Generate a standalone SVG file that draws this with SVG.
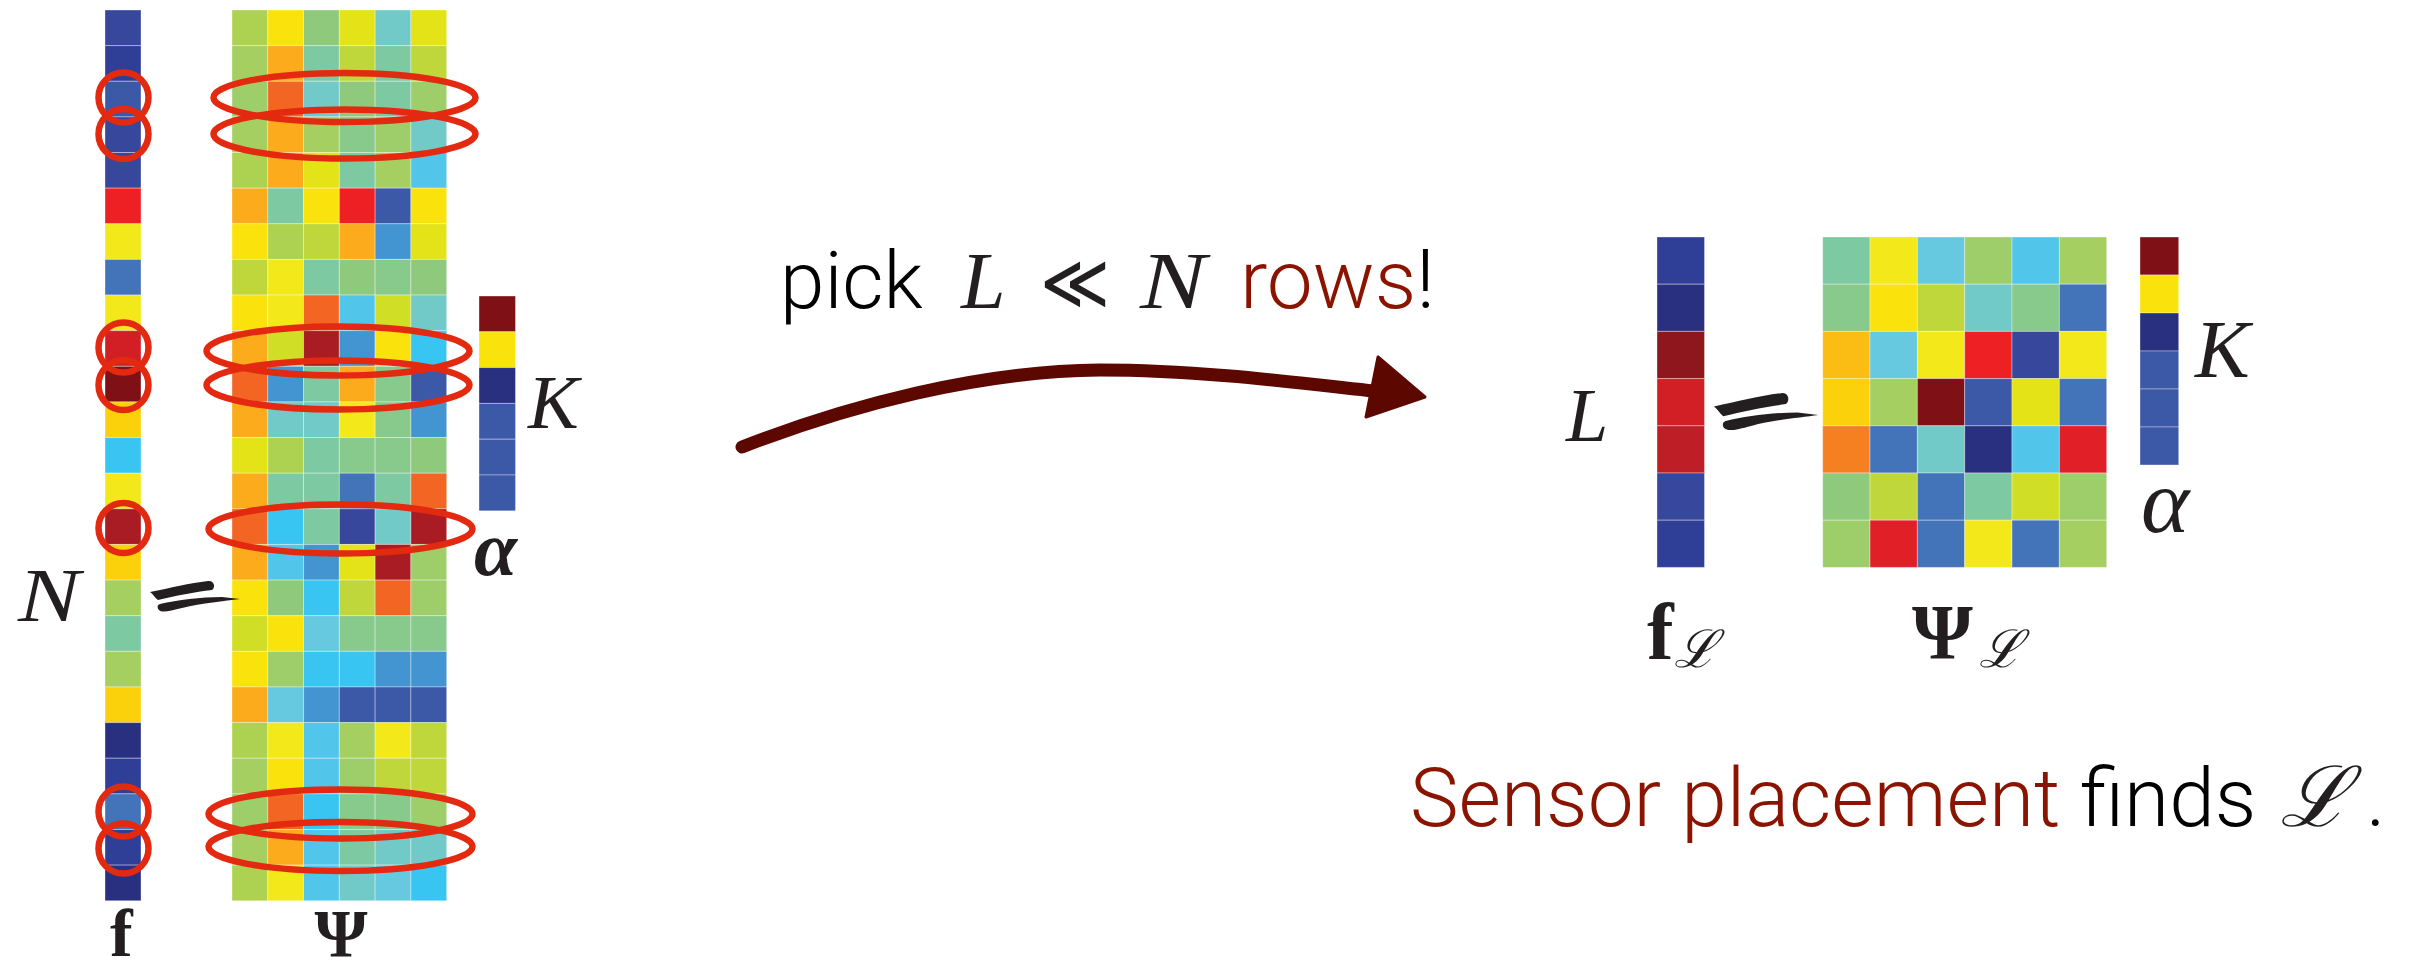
<svg xmlns="http://www.w3.org/2000/svg" width="2412" height="971" viewBox="0 0 2412 971">
<style>
rect{stroke:#ffffff;stroke-opacity:.35;stroke-width:1;vector-effect:non-scaling-stroke}
.nv{fill:#29307f}.b1{fill:#2f3e97}.b2{fill:#36479c}.b3{fill:#3c59a7}.b4{fill:#4373b8}.b5{fill:#4395d1}
.cy{fill:#38c5f2}.c2{fill:#52c6ea}.c3{fill:#66c9e0}.tq{fill:#72cac8}.tg{fill:#7cc9a2}
.g1{fill:#88c98c}.g2{fill:#8fc97c}.g3{fill:#9dce6a}.g4{fill:#a5cf60}.g5{fill:#add150}
.yg{fill:#bfd73a}.y1{fill:#d1de26}.y2{fill:#e3e318}.y3{fill:#f3e91a}.y4{fill:#fae20c}.gd{fill:#fbd10c}
.or{fill:#fbab1b}.o2{fill:#f26522}.rd{fill:#ee2024}.r2{fill:#d21f26}.r3{fill:#be1f26}.dr{fill:#aa1c24}.d2{fill:#8e171e}.mr{fill:#7f1116}
.sel{fill:none;stroke:#e3290f;stroke-width:6.5}
.mi{font-family:"Liberation Serif","DejaVu Serif",serif;font-style:italic;fill:#231f20}
.mb{font-family:"Liberation Serif","DejaVu Serif",serif;font-weight:bold;fill:#231f20}
.mbi{font-family:"Liberation Serif","DejaVu Serif",serif;font-weight:bold;font-style:italic;fill:#231f20}
.scr{font-family:"DejaVu Serif",serif;font-style:italic;fill:#231f20}
.sans{font-family:"Roboto","Liberation Sans",sans-serif;font-weight:300}
.red{fill:#8a1400}
.blk{fill:#000000}
.eq{fill:#231f20}
</style>

<!-- Left f vector -->
<g id="f-vector">
<g transform="translate(105,10) scale(36,35.63)">
<rect x="0" y="0" width="1" height="1" class="b2"/>
<rect x="0" y="1" width="1" height="1" class="b1"/>
<rect x="0" y="2" width="1" height="1" class="b3"/>
<rect x="0" y="3" width="1" height="1" class="b2"/>
<rect x="0" y="4" width="1" height="1" class="b2"/>
<rect x="0" y="5" width="1" height="1" class="rd"/>
<rect x="0" y="6" width="1" height="1" class="y3"/>
<rect x="0" y="7" width="1" height="1" class="b4"/>
<rect x="0" y="8" width="1" height="1" class="y3"/>
<rect x="0" y="9" width="1" height="1" class="r2"/>
<rect x="0" y="10" width="1" height="1" class="mr"/>
<rect x="0" y="11" width="1" height="1" class="gd"/>
<rect x="0" y="12" width="1" height="1" class="cy"/>
<rect x="0" y="13" width="1" height="1" class="y3"/>
<rect x="0" y="14" width="1" height="1" class="dr"/>
<rect x="0" y="15" width="1" height="1" class="gd"/>
<rect x="0" y="16" width="1" height="1" class="g4"/>
<rect x="0" y="17" width="1" height="1" class="tg"/>
<rect x="0" y="18" width="1" height="1" class="g4"/>
<rect x="0" y="19" width="1" height="1" class="gd"/>
<rect x="0" y="20" width="1" height="1" class="nv"/>
<rect x="0" y="21" width="1" height="1" class="b1"/>
<rect x="0" y="22" width="1" height="1" class="b4"/>
<rect x="0" y="23" width="1" height="1" class="b1"/>
<rect x="0" y="24" width="1" height="1" class="nv"/>
</g>
<circle cx="123.5" cy="97.5" r="25" class="sel"/>
<circle cx="123.5" cy="134" r="25" class="sel"/>
<circle cx="123.5" cy="347.5" r="25" class="sel"/>
<circle cx="123.5" cy="385" r="25" class="sel"/>
<circle cx="123.5" cy="528" r="25" class="sel"/>
<circle cx="123.5" cy="811.5" r="25" class="sel"/>
<circle cx="123.5" cy="848.5" r="25" class="sel"/>
<text x="110" y="956" font-size="68" class="mb">f</text>
</g>

<!-- Left Psi matrix -->
<g id="psi-matrix">
<g transform="translate(232,10) scale(35.78,35.63)">
<rect x="0" y="0" width="1" height="1" class="g5"/><rect x="1" y="0" width="1" height="1" class="y4"/><rect x="2" y="0" width="1" height="1" class="g2"/><rect x="3" y="0" width="1" height="1" class="y2"/><rect x="4" y="0" width="1" height="1" class="tq"/><rect x="5" y="0" width="1" height="1" class="y2"/>
<rect x="0" y="1" width="1" height="1" class="g4"/><rect x="1" y="1" width="1" height="1" class="or"/><rect x="2" y="1" width="1" height="1" class="tg"/><rect x="3" y="1" width="1" height="1" class="yg"/><rect x="4" y="1" width="1" height="1" class="tg"/><rect x="5" y="1" width="1" height="1" class="yg"/>
<rect x="0" y="2" width="1" height="1" class="g3"/><rect x="1" y="2" width="1" height="1" class="o2"/><rect x="2" y="2" width="1" height="1" class="tq"/><rect x="3" y="2" width="1" height="1" class="g2"/><rect x="4" y="2" width="1" height="1" class="tg"/><rect x="5" y="2" width="1" height="1" class="g3"/>
<rect x="0" y="3" width="1" height="1" class="g4"/><rect x="1" y="3" width="1" height="1" class="or"/><rect x="2" y="3" width="1" height="1" class="g4"/><rect x="3" y="3" width="1" height="1" class="g1"/><rect x="4" y="3" width="1" height="1" class="g3"/><rect x="5" y="3" width="1" height="1" class="tq"/>
<rect x="0" y="4" width="1" height="1" class="g5"/><rect x="1" y="4" width="1" height="1" class="or"/><rect x="2" y="4" width="1" height="1" class="y2"/><rect x="3" y="4" width="1" height="1" class="tg"/><rect x="4" y="4" width="1" height="1" class="g4"/><rect x="5" y="4" width="1" height="1" class="c2"/>
<rect x="0" y="5" width="1" height="1" class="or"/><rect x="1" y="5" width="1" height="1" class="tg"/><rect x="2" y="5" width="1" height="1" class="y4"/><rect x="3" y="5" width="1" height="1" class="rd"/><rect x="4" y="5" width="1" height="1" class="b3"/><rect x="5" y="5" width="1" height="1" class="y4"/>
<rect x="0" y="6" width="1" height="1" class="y4"/><rect x="1" y="6" width="1" height="1" class="g5"/><rect x="2" y="6" width="1" height="1" class="yg"/><rect x="3" y="6" width="1" height="1" class="or"/><rect x="4" y="6" width="1" height="1" class="b5"/><rect x="5" y="6" width="1" height="1" class="y2"/>
<rect x="0" y="7" width="1" height="1" class="yg"/><rect x="1" y="7" width="1" height="1" class="y3"/><rect x="2" y="7" width="1" height="1" class="tg"/><rect x="3" y="7" width="1" height="1" class="g2"/><rect x="4" y="7" width="1" height="1" class="g1"/><rect x="5" y="7" width="1" height="1" class="g2"/>
<rect x="0" y="8" width="1" height="1" class="y4"/><rect x="1" y="8" width="1" height="1" class="y3"/><rect x="2" y="8" width="1" height="1" class="o2"/><rect x="3" y="8" width="1" height="1" class="c2"/><rect x="4" y="8" width="1" height="1" class="y1"/><rect x="5" y="8" width="1" height="1" class="tq"/>
<rect x="0" y="9" width="1" height="1" class="or"/><rect x="1" y="9" width="1" height="1" class="y1"/><rect x="2" y="9" width="1" height="1" class="dr"/><rect x="3" y="9" width="1" height="1" class="b5"/><rect x="4" y="9" width="1" height="1" class="y4"/><rect x="5" y="9" width="1" height="1" class="cy"/>
<rect x="0" y="10" width="1" height="1" class="o2"/><rect x="1" y="10" width="1" height="1" class="b5"/><rect x="2" y="10" width="1" height="1" class="tg"/><rect x="3" y="10" width="1" height="1" class="or"/><rect x="4" y="10" width="1" height="1" class="g1"/><rect x="5" y="10" width="1" height="1" class="b3"/>
<rect x="0" y="11" width="1" height="1" class="or"/><rect x="1" y="11" width="1" height="1" class="tq"/><rect x="2" y="11" width="1" height="1" class="tq"/><rect x="3" y="11" width="1" height="1" class="y3"/><rect x="4" y="11" width="1" height="1" class="g1"/><rect x="5" y="11" width="1" height="1" class="b5"/>
<rect x="0" y="12" width="1" height="1" class="y2"/><rect x="1" y="12" width="1" height="1" class="g5"/><rect x="2" y="12" width="1" height="1" class="tg"/><rect x="3" y="12" width="1" height="1" class="g1"/><rect x="4" y="12" width="1" height="1" class="g1"/><rect x="5" y="12" width="1" height="1" class="g2"/>
<rect x="0" y="13" width="1" height="1" class="or"/><rect x="1" y="13" width="1" height="1" class="tg"/><rect x="2" y="13" width="1" height="1" class="tg"/><rect x="3" y="13" width="1" height="1" class="b4"/><rect x="4" y="13" width="1" height="1" class="tg"/><rect x="5" y="13" width="1" height="1" class="o2"/>
<rect x="0" y="14" width="1" height="1" class="o2"/><rect x="1" y="14" width="1" height="1" class="cy"/><rect x="2" y="14" width="1" height="1" class="tg"/><rect x="3" y="14" width="1" height="1" class="b2"/><rect x="4" y="14" width="1" height="1" class="tq"/><rect x="5" y="14" width="1" height="1" class="dr"/>
<rect x="0" y="15" width="1" height="1" class="or"/><rect x="1" y="15" width="1" height="1" class="c2"/><rect x="2" y="15" width="1" height="1" class="b5"/><rect x="3" y="15" width="1" height="1" class="y2"/><rect x="4" y="15" width="1" height="1" class="dr"/><rect x="5" y="15" width="1" height="1" class="g3"/>
<rect x="0" y="16" width="1" height="1" class="y4"/><rect x="1" y="16" width="1" height="1" class="g2"/><rect x="2" y="16" width="1" height="1" class="cy"/><rect x="3" y="16" width="1" height="1" class="yg"/><rect x="4" y="16" width="1" height="1" class="o2"/><rect x="5" y="16" width="1" height="1" class="g3"/>
<rect x="0" y="17" width="1" height="1" class="y1"/><rect x="1" y="17" width="1" height="1" class="y4"/><rect x="2" y="17" width="1" height="1" class="c3"/><rect x="3" y="17" width="1" height="1" class="g1"/><rect x="4" y="17" width="1" height="1" class="g1"/><rect x="5" y="17" width="1" height="1" class="g1"/>
<rect x="0" y="18" width="1" height="1" class="y4"/><rect x="1" y="18" width="1" height="1" class="g3"/><rect x="2" y="18" width="1" height="1" class="cy"/><rect x="3" y="18" width="1" height="1" class="cy"/><rect x="4" y="18" width="1" height="1" class="b5"/><rect x="5" y="18" width="1" height="1" class="b5"/>
<rect x="0" y="19" width="1" height="1" class="or"/><rect x="1" y="19" width="1" height="1" class="c3"/><rect x="2" y="19" width="1" height="1" class="b5"/><rect x="3" y="19" width="1" height="1" class="b3"/><rect x="4" y="19" width="1" height="1" class="b3"/><rect x="5" y="19" width="1" height="1" class="b3"/>
<rect x="0" y="20" width="1" height="1" class="g5"/><rect x="1" y="20" width="1" height="1" class="y3"/><rect x="2" y="20" width="1" height="1" class="c2"/><rect x="3" y="20" width="1" height="1" class="g4"/><rect x="4" y="20" width="1" height="1" class="y3"/><rect x="5" y="20" width="1" height="1" class="yg"/>
<rect x="0" y="21" width="1" height="1" class="g4"/><rect x="1" y="21" width="1" height="1" class="y4"/><rect x="2" y="21" width="1" height="1" class="c2"/><rect x="3" y="21" width="1" height="1" class="g3"/><rect x="4" y="21" width="1" height="1" class="yg"/><rect x="5" y="21" width="1" height="1" class="yg"/>
<rect x="0" y="22" width="1" height="1" class="g3"/><rect x="1" y="22" width="1" height="1" class="o2"/><rect x="2" y="22" width="1" height="1" class="cy"/><rect x="3" y="22" width="1" height="1" class="g1"/><rect x="4" y="22" width="1" height="1" class="g1"/><rect x="5" y="22" width="1" height="1" class="g3"/>
<rect x="0" y="23" width="1" height="1" class="g4"/><rect x="1" y="23" width="1" height="1" class="or"/><rect x="2" y="23" width="1" height="1" class="c2"/><rect x="3" y="23" width="1" height="1" class="tg"/><rect x="4" y="23" width="1" height="1" class="tq"/><rect x="5" y="23" width="1" height="1" class="tq"/>
<rect x="0" y="24" width="1" height="1" class="g5"/><rect x="1" y="24" width="1" height="1" class="y3"/><rect x="2" y="24" width="1" height="1" class="c2"/><rect x="3" y="24" width="1" height="1" class="tq"/><rect x="4" y="24" width="1" height="1" class="c3"/><rect x="5" y="24" width="1" height="1" class="cy"/>
</g>
<ellipse cx="344.5" cy="97.5" rx="131" ry="24.5" class="sel"/>
<ellipse cx="344.5" cy="134" rx="131" ry="24.5" class="sel"/>
<ellipse cx="338" cy="351" rx="131.5" ry="24.5" class="sel"/>
<ellipse cx="338" cy="385" rx="131.5" ry="24.5" class="sel"/>
<ellipse cx="340.5" cy="529" rx="132" ry="24.5" class="sel"/>
<ellipse cx="340.5" cy="814" rx="132" ry="24.5" class="sel"/>
<ellipse cx="340.5" cy="846.5" rx="132" ry="24.5" class="sel"/>
<text x="341" y="956" font-size="68" text-anchor="middle" class="mb">Ψ</text>
</g>

<!-- Left alpha vector -->
<g id="alpha-vector">
<g transform="translate(479,296) scale(36.5,35.8)">
<rect x="0" y="0" width="1" height="1" class="mr"/>
<rect x="0" y="1" width="1" height="1" class="y4"/>
<rect x="0" y="2" width="1" height="1" class="nv"/>
<rect x="0" y="3" width="1" height="1" class="b3"/>
<rect x="0" y="4" width="1" height="1" class="b3"/>
<rect x="0" y="5" width="1" height="1" class="b3"/>
</g>
<text x="528" y="428" font-size="76" class="mi">K</text>
<text x="474" y="575" font-size="78" class="mbi">α</text>
</g>

<!-- Left equation label and sign -->
<g id="left-equation">
<text x="18" y="621" font-size="76" class="mi" textLength="62" lengthAdjust="spacingAndGlyphs">N</text>
<g transform="translate(150,580)" class="eq">
<path d="M0,12 C20,8 40,3 58,1 C64,0 66,7 62,10 C45,12 25,16 8,20 C5,18 3,14 0,12 Z"/>
<path d="M10,24 C28,20 50,17 72,17 L90,19 C75,21 52,23 32,28 C20,31 12,33 9,30 C7,28 7,25 10,24 Z"/>
</g>
</g>

<!-- Connector -->
<g id="connectors">
<path d="M742,447 C850,405 980,371 1100,370 C1200,370 1300,383 1374,391" fill="none" stroke="#5c0800" stroke-width="13" stroke-linecap="round"/>
<polygon points="1378,357 1425,397 1366,417" fill="#5c0800" stroke="#5c0800" stroke-width="3" stroke-linejoin="round"/>
</g>

<!-- Arrow label -->
<g id="pick-label">
<text x="780" y="308" font-size="80" class="sans blk">pick</text>
<text x="961" y="308" font-size="80" class="mi">L</text>
<text x="1040" y="309" font-size="78" font-family="DejaVu Sans, sans-serif" fill="#231f20" textLength="70" lengthAdjust="spacingAndGlyphs">≪</text>
<text x="1140" y="308" font-size="80" class="mi" textLength="66" lengthAdjust="spacingAndGlyphs">N</text>
<text x="1240" y="308" font-size="82" class="sans red">rows<tspan class="blk">!</tspan></text>
</g>

<!-- Right f_L vector -->
<g id="fL-vector">
<g transform="translate(1657,237) scale(47.5,47.2)">
<rect x="0" y="0" width="1" height="1" class="b1"/>
<rect x="0" y="1" width="1" height="1" class="nv"/>
<rect x="0" y="2" width="1" height="1" class="d2"/>
<rect x="0" y="3" width="1" height="1" class="r2"/>
<rect x="0" y="4" width="1" height="1" class="r3"/>
<rect x="0" y="5" width="1" height="1" class="b2"/>
<rect x="0" y="6" width="1" height="1" class="b1"/>
</g>
<text x="1647" y="659" font-size="80" class="mb">f</text>
<text x="1674" y="667" font-size="52" class="scr">ℒ</text>
<text x="1566" y="441" font-size="76" class="mi">L</text>
</g>

<!-- Right Psi_L matrix -->
<g id="psiL-matrix">
<g transform="translate(1822.7,237) scale(47.33,47.2)">
<rect x="0" y="0" width="1" height="1" class="tg"/><rect x="1" y="0" width="1" height="1" class="y3"/><rect x="2" y="0" width="1" height="1" class="c3"/><rect x="3" y="0" width="1" height="1" class="g3"/><rect x="4" y="0" width="1" height="1" class="c2"/><rect x="5" y="0" width="1" height="1" class="g4"/>
<rect x="0" y="1" width="1" height="1" class="g1"/><rect x="1" y="1" width="1" height="1" class="y4"/><rect x="2" y="1" width="1" height="1" class="yg"/><rect x="3" y="1" width="1" height="1" class="tq"/><rect x="4" y="1" width="1" height="1" class="g1"/><rect x="5" y="1" width="1" height="1" class="b4"/>
<rect x="0" y="2" width="1" height="1" fill="#fbbd14"/><rect x="1" y="2" width="1" height="1" class="c3"/><rect x="2" y="2" width="1" height="1" class="y3"/><rect x="3" y="2" width="1" height="1" class="rd"/><rect x="4" y="2" width="1" height="1" class="b2"/><rect x="5" y="2" width="1" height="1" class="y3"/>
<rect x="0" y="3" width="1" height="1" class="gd"/><rect x="1" y="3" width="1" height="1" class="g4"/><rect x="2" y="3" width="1" height="1" class="mr"/><rect x="3" y="3" width="1" height="1" class="b3"/><rect x="4" y="3" width="1" height="1" class="y2"/><rect x="5" y="3" width="1" height="1" class="b4"/>
<rect x="0" y="4" width="1" height="1" fill="#f58021"/><rect x="1" y="4" width="1" height="1" class="b4"/><rect x="2" y="4" width="1" height="1" class="tq"/><rect x="3" y="4" width="1" height="1" class="nv"/><rect x="4" y="4" width="1" height="1" class="c2"/><rect x="5" y="4" width="1" height="1" fill="#e11f27"/>
<rect x="0" y="5" width="1" height="1" class="g2"/><rect x="1" y="5" width="1" height="1" class="yg"/><rect x="2" y="5" width="1" height="1" class="b4"/><rect x="3" y="5" width="1" height="1" class="tg"/><rect x="4" y="5" width="1" height="1" class="y1"/><rect x="5" y="5" width="1" height="1" class="g3"/>
<rect x="0" y="6" width="1" height="1" class="g3"/><rect x="1" y="6" width="1" height="1" fill="#e11f27"/><rect x="2" y="6" width="1" height="1" class="b4"/><rect x="3" y="6" width="1" height="1" class="y3"/><rect x="4" y="6" width="1" height="1" class="b4"/><rect x="5" y="6" width="1" height="1" class="g4"/>
</g>
<g transform="translate(1714,392) scale(1.16,1.21)" class="eq">
<path d="M0,12 C20,8 40,3 58,1 C64,0 66,7 62,10 C45,12 25,16 8,20 C5,18 3,14 0,12 Z"/>
<path d="M10,24 C28,20 50,17 72,17 L90,19 C75,21 52,23 32,28 C20,31 12,33 9,30 C7,28 7,25 10,24 Z"/>
</g>
<text x="1912" y="658" font-size="78" class="mb">Ψ</text>
<text x="1979" y="667" font-size="52" class="scr">ℒ</text>
</g>

<!-- Right alpha vector -->
<g id="alphaR-vector">
<g transform="translate(2140,237) scale(38.7,38)">
<rect x="0" y="0" width="1" height="1" class="mr"/>
<rect x="0" y="1" width="1" height="1" class="y4"/>
<rect x="0" y="2" width="1" height="1" class="nv"/>
<rect x="0" y="3" width="1" height="1" class="b3"/>
<rect x="0" y="4" width="1" height="1" class="b3"/>
<rect x="0" y="5" width="1" height="1" class="b3"/>
</g>
<text x="2195" y="377" font-size="82" class="mi">K</text>
<text x="2141" y="532" font-size="92" class="mi">α</text>
</g>

<!-- Caption -->
<g id="caption">
<text x="1410" y="826" font-size="82" class="sans red">Sensor placement</text>
<text x="2080" y="826" font-size="82" class="sans blk">finds</text>
<text x="2280" y="826" font-size="84" class="scr">ℒ</text>
<text x="2366" y="826" font-size="82" class="sans blk">.</text>
</g>
</svg>
